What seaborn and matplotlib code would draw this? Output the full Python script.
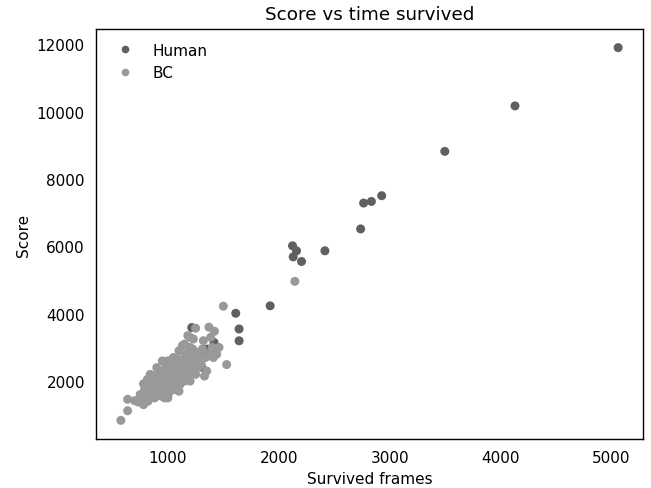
import matplotlib
matplotlib.use("Agg")
import matplotlib.pyplot as plt
import seaborn as sns
import pandas as pd

human_frames = [5060, 4130, 3497, 2928, 2835, 2765, 2738, 2416, 2124, 2160, 2130, 2205,
                1922, 1612, 1642, 1642, 1215, 1416, 1356, 1330, 1305, 1100, 1000, 900]
human_score = [11900, 10170, 8820, 7504, 7334, 7286, 6517, 5868, 6017, 5868, 5688, 5551,
               4235, 4013, 3547, 3197, 3590, 3147, 2949, 2780, 2410, 2300, 2000, 1800]

bc_frames = [576, 637, 637, 700, 730, 760, 780, 800, 810, 820, 830, 840, 850, 860, 870, 880,
             890, 900, 910, 920, 930, 940, 950, 960, 970, 980, 990, 1000, 1000, 1010, 1020,
             1030, 1040, 1050, 1060, 1070, 1080, 1090, 1100, 1110, 1120, 1130, 1140, 1150,
             1160, 1170, 1180, 1190, 1200, 1210, 1220, 1230, 1250, 1260, 1280, 1300, 1330,
             1340, 1370, 1386, 1400, 1420, 1440, 1461, 1500, 1530, 2145,
             750, 790, 815, 850, 880, 905, 925, 945, 960, 985, 1005, 1025, 1045, 1065, 1085,
             1105, 1125, 1145, 1165, 1185, 1205, 1225, 1245, 1270, 1290, 1310, 1150, 1100,
             1050, 1000, 950, 900, 870, 830, 1180, 1230, 1320, 1380, 1410,
             900, 950, 1050, 1100, 1150, 1200, 1000, 1100, 1200, 1250, 780, 1350]
bc_score = [834, 1120, 1460, 1420, 1380, 1480, 1920, 1700, 1550, 1400, 1850, 2200, 1650, 1750,
            1950, 1500, 1800, 2050, 1600, 2300, 1850, 1700, 2100, 1950, 1500, 2400, 1800, 2000,
            2600, 1650, 2200, 1900, 2500, 2100, 1750, 2300, 2000, 2650, 2200, 1900, 2450, 3050,
            2100, 2350, 2800, 2550, 2200, 2650, 3000, 2400, 2750, 2250, 3570, 2600, 2850, 2500,
            2150, 2700, 3600, 3300, 3000, 3480, 2800, 3000, 4223, 2490, 4961,
            1600, 1750, 2050, 1900, 2150, 1750, 2000, 1550, 2250, 2100, 1850, 2350, 1950, 2450,
            2250, 2550, 2150, 2650, 2400, 2850, 2600, 2950, 2700, 2400, 2750, 2950, 2000, 2000,
            2300, 1750, 1850, 1900, 1650, 1600, 3350, 3250, 3200, 2850, 2700,
            2400, 2600, 2700, 2900, 3100, 3300, 1500, 1700, 2000, 2200, 1300, 2300]

df = pd.DataFrame({
    "frames": human_frames + bc_frames,
    "score": human_score + bc_score,
    "agent": ["Human"] * len(human_frames) + ["BC"] * len(bc_frames),
})

fig = plt.figure(figsize=(6.51, 4.89), dpi=100)
ax = fig.add_axes([96/651, 1-440/489, (643-96)/651, (440-30)/489])
sns.scatterplot(data=df, x="frames", y="score", hue="agent",
                palette={"Human": "#606060", "BC": "#999999"},
                s=42, linewidth=0, alpha=1, ax=ax)
ax.set_title("Score vs time survived", fontsize=13.2, pad=7)
ax.set_xlabel("Survived frames", fontsize=11, labelpad=4)
ax.set_ylabel("Score", fontsize=11, labelpad=4)
ax.set_xticks([1000, 2000, 3000, 4000, 5000])
ax.set_yticks([2000, 4000, 6000, 8000, 10000, 12000])
ax.tick_params(length=0, labelsize=11, pad=8)
for s in ax.spines.values():
    s.set_color("black")
    s.set_linewidth(1.0)
leg = ax.legend(loc="upper left", frameon=False, fontsize=11, title=None,
                handletextpad=0.8, borderaxespad=0.5, markerscale=0.85)
fig.savefig("out.png", dpi=100)
